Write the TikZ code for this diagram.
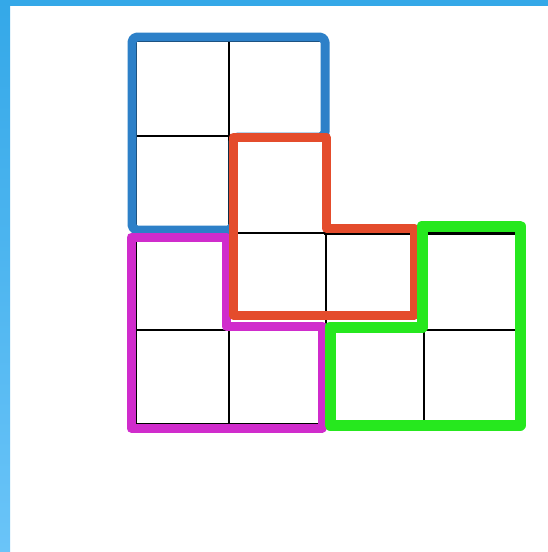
\documentclass[tikz,border=0pt]{standalone}
\usepackage{tikz}
\definecolor{pieceblue}{RGB}{45,128,200}
\definecolor{piecered}{RGB}{228,76,44}
\definecolor{piecepink}{RGB}{208,44,204}
\definecolor{piecegreen}{RGB}{38,232,30}
\definecolor{edgetop}{RGB}{52,168,232}
\definecolor{edgebottom}{RGB}{106,196,248}
\begin{document}
\begin{tikzpicture}[x=1pt,y=-1pt,gridline/.style={line width=2.5pt},piece/.style={line width=9pt,line join=round}]
        \useasboundingbox (0,0) rectangle (548,552);
        \fill[white] (0,0) rectangle (548,552);
        \shade[top color=edgetop,bottom color=edgebottom] (0,0) rectangle (10,552);
        \fill[edgetop] (0,0) rectangle (548,6);
        % cells
        \draw[gridline,line width=3.5pt] (135,40) -- (326,40) -- (326,233) -- (517,233) -- (517,425) -- (135,425) -- cycle;
        \foreach \y in {136,233} \draw[gridline] (135,\y) -- (326,\y);
        \draw[gridline] (135,330) -- (517,330);
        \draw[gridline] (229,40) -- (229,425);
        \foreach \x in {326,424} \draw[gridline] (\x,233) -- (\x,425);
        % pieces
        \draw[piece,pieceblue,rounded corners=5pt] (132,37) -- (325,37) -- (325,137) -- (233,137) -- (233,230) -- (132,230) -- cycle;
        \draw[piece,piecepink] (131,237) -- (226,237) -- (226,326) -- (322,326) -- (322,428) -- (131,428) -- cycle;
        \draw[piece,piecered] (233,137) -- (326,137) -- (326,228) -- (414,228) -- (414,315) -- (233,315) -- cycle;
        \draw[piece,piecegreen,line width=11pt] (330,327) -- (422,327) -- (422,226) -- (520,226) -- (520,425) -- (330,425) -- cycle;
      \end{tikzpicture}
\end{document}
